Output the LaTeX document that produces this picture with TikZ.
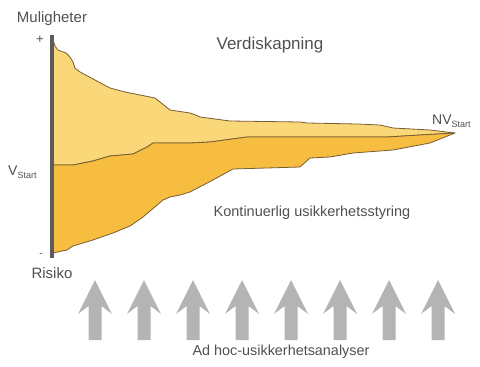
\documentclass[tikz,border=0pt]{standalone}
\usepackage{fontspec}
\setmainfont{Liberation Sans}
\usetikzlibrary{positioning}

\definecolor{lightband}{RGB}{250,215,120}
\definecolor{darkband}{RGB}{247,189,64}
\definecolor{edgeline}{RGB}{118,94,52}
\definecolor{bargray}{RGB}{92,92,92}
\definecolor{arrowgray}{RGB}{180,180,180}
\definecolor{labelgray}{RGB}{80,80,80}

\newcommand{\sub}[1]{\raisebox{-0.45ex}{\fontsize{9}{9}\selectfont #1}}

\begin{document}
\begin{tikzpicture}[x=1pt, y=-1pt,
    lbl/.style={text=labelgray, inner sep=0pt},
    band/.style={draw=edgeline, line width=0.8pt, line join=round}]
  \useasboundingbox (0,0) rectangle (480,367);

  % Upper band (opportunities)
  \fill[lightband, band] (53,40) -- (55,46) -- (58,50) -- (66,53) -- (70,57) -- (73,62)
    -- (75,68) -- (80,72) -- (95,80) -- (110,88) -- (125,92) -- (140,95) -- (155,98)
    -- (160,102) -- (170,110) -- (190,113) -- (193,114) -- (200,117) -- (230,121)
    -- (300,122) -- (307,123) -- (357,124) -- (380,125) -- (393,128) -- (430,130)
    -- (455,133)
    -- (420,135) -- (387,137) -- (330,137) -- (247,137) -- (210,142) -- (190,143)
    -- (153,143) -- (147,147) -- (133,154) -- (110,156) -- (93,161) -- (83,163)
    -- (73,165) -- (53,165) -- cycle;

  % Lower band (risk)
  \fill[darkband, band] (53,165) -- (73,165) -- (83,163) -- (93,161) -- (110,156)
    -- (133,154) -- (147,147) -- (153,143) -- (190,143) -- (210,142) -- (247,137)
    -- (330,137) -- (387,137) -- (420,135) -- (455,133)
    -- (430,143) -- (393,150) -- (353,153) -- (330,157) -- (310,158) -- (300,167)
    -- (233,169) -- (213,180) -- (190,192) -- (180,195) -- (170,197) -- (163,200)
    -- (143,217) -- (130,226) -- (113,233) -- (93,240) -- (73,246) -- (67,250)
    -- (62,251) -- (53,253) -- cycle;

  % Axis bar
  \fill[bargray] (50,35) rectangle (54,258);

  % Axis labels
  \node[lbl, font=\fontsize{15}{15}\selectfont] (mulig) at (52,19) {Muligheter};
  \node[lbl, font=\fontsize{13}{13}\selectfont] (plus) at (40,40) {+};
  \node[lbl, font=\fontsize{10}{10}\selectfont] (minus) at (41,255) {-};
  \node[lbl, font=\fontsize{15}{15}\selectfont] (risiko) at (52,273) {Risiko};
  \node[lbl, font=\fontsize{14}{14}\selectfont, anchor=west] (vstart) at (8,172) {V\sub{Start}};
  \node[lbl, font=\fontsize{14}{14}\selectfont, anchor=west] (nvstart) at (432,121) {NV\sub{Start}};

  % Titles
  \node[lbl, font=\fontsize{17}{17}\selectfont] (title) at (270,45) {Verdiskapning};
  \node[lbl, font=\fontsize{14.5}{14.5}\selectfont] (styring) at (312,213) {Kontinuerlig usikkerhetsstyring};

  % Analysis arrows
  \foreach \cx in {95,144,193,242,291,340,389,438} {
    \fill[arrowgray] (\cx,280) -- (\cx+17,314) -- (\cx+6.5,306) -- (\cx+6.5,340)
      -- (\cx-6.5,340) -- (\cx-6.5,306) -- (\cx-17,314) -- cycle;
  }
  \node[lbl, font=\fontsize{14.4}{14.4}\selectfont] (adhoc) at (281,352) {Ad hoc-usikkerhetsanalyser};
\end{tikzpicture}
\end{document}
